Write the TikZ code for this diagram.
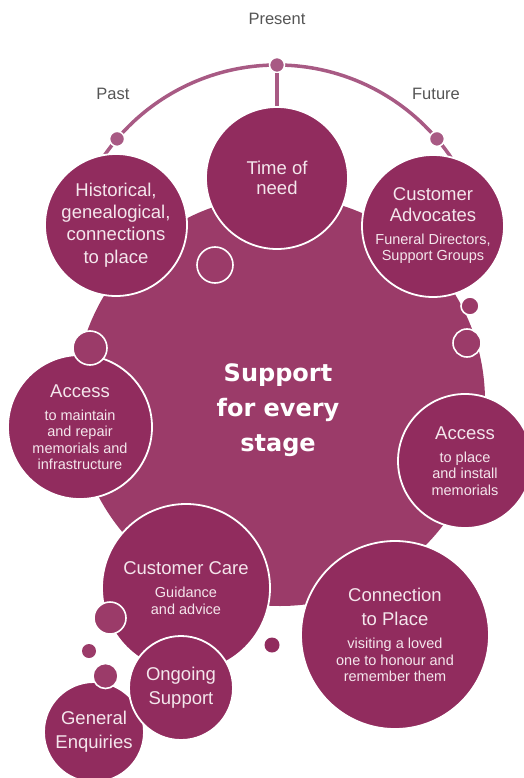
\documentclass[tikz,border=0pt]{standalone}
\usepackage{fontspec}
\usetikzlibrary{calc}
\setmainfont{Liberation Sans}
\newfontfamily\headfont{DejaVu Sans}
\definecolor{bigfill}{HTML}{9B3B69}
\definecolor{nodefill}{HTML}{912C5E}
\definecolor{arccol}{HTML}{A85A84}
\definecolor{txtcol}{HTML}{F4E6EC}
\definecolor{graytxt}{HTML}{555555}
\newcommand{\mainsz}{\fontsize{18.5}{17}\selectfont}
\newcommand{\subsz}{\fontsize{14.5}{16.5}\selectfont}
\tikzset{
  stagenode/.style={circle, fill=nodefill, draw=white, line width=1.8pt, inner sep=0pt,
    text=txtcol, align=center, minimum size=#1},
  bubble/.style={circle, fill=bigfill, draw=white, line width=1.6pt, inner sep=0pt, minimum size=#1},
  darkdot/.style={circle, fill=nodefill, inner sep=0pt, minimum size=#1},
  timedot/.style={circle, fill=arccol, draw=white, line width=1.5pt, inner sep=0pt, minimum size=15pt},
  timelabel/.style={text=graytxt, font=\fontsize{16.5}{18}\selectfont},
  timeline/.style={draw=arccol, line width=3.5pt}
}
\begin{document}
\begin{tikzpicture}[x=1pt,y=-1pt]
\useasboundingbox (0,0) rectangle (523,778);
% big background circle
\fill[bigfill] (280,401) circle[radius=205];
% time arc
\coordinate (arcc) at (277,275);
\draw[timeline] (arcc) ++(214:210) arc[start angle=214, end angle=326, radius=210];
\node[timedot] (past) at ($(arcc)+(220.4:210)$) {};
\node[timedot] (pres) at ($(arcc)+(270:210)$) {};
\node[timedot] (fut) at ($(arcc)+(319.6:210)$) {};
\node[timelabel] (pastl) at (113,94) {Past};
\node[timelabel] (presl) at (277,19) {Present};
\node[timelabel] (futl) at (436,94) {Future};
% small bubbles behind
\node[bubble=36pt] (ring) at (215,265) {};
\node[bubble=18pt] (rs1) at (470,306) {};
\node[bubble=28pt] (rs2) at (467,343) {};
\node[darkdot=15pt] (cs4) at (272,645) {};
% main nodes
\node[stagenode=142pt, font=\fontsize{18.5}{20}\selectfont] (time) at (277,178) {Time of\\need};
\draw[timeline] (pres) -- (time.north);
\node[stagenode=142pt, font=\fontsize{18.5}{22.3}\selectfont] (hist) at (116,225) {Historical,\\genealogical,\\connections\\to place};
\node[stagenode=142pt, font=\subsz] (adv) at (433,226) {{\mainsz Customer}\\[4.5pt]{\mainsz Advocates}\\[6pt]Funeral Directors,\\Support Groups};
\node[stagenode=144pt, font=\subsz] (accl) at (80,427) {{\mainsz Access}\\[6.5pt]to maintain\\and repair\\memorials and\\infrastructure};
\node[stagenode=134pt, font=\subsz] (accr) at (465,461) {{\mainsz Access}\\[6.5pt]to place\\and install\\memorials};
\node[stagenode=168pt, font=\subsz] (care) at (186,588) {{\mainsz Customer Care}\\[6.5pt]Guidance\\and advice};
\node[stagenode=188pt, font=\subsz] (conn) at (395,635) {{\mainsz Connection}\\[7.5pt]{\mainsz to Place}\\[6.5pt]visiting a loved\\one to honour and\\remember them};
\node[stagenode=100pt, font=\fontsize{18.5}{24}\selectfont] (gen) at (94,732) {General\\Enquiries};
\node[stagenode=104pt, font=\fontsize{18.5}{24}\selectfont] (ong) at (181,688) {Ongoing\\Support};
% small bubbles in front
\node[bubble=34pt] (ls1) at (90,348) {};
\node[bubble=32pt] (cs1) at (110,618) {};
\node[circle, fill=bigfill, inner sep=0pt, minimum size=14pt] (cs2) at (89,651) {};
\node[bubble=25pt] (cs3) at (105.5,676) {};
% title
\node[text=white, align=center, font=\headfont\bfseries\fontsize{24}{35}\selectfont] (title) at (278,410) {Support\\for every\\stage};
\end{tikzpicture}
\end{document}
